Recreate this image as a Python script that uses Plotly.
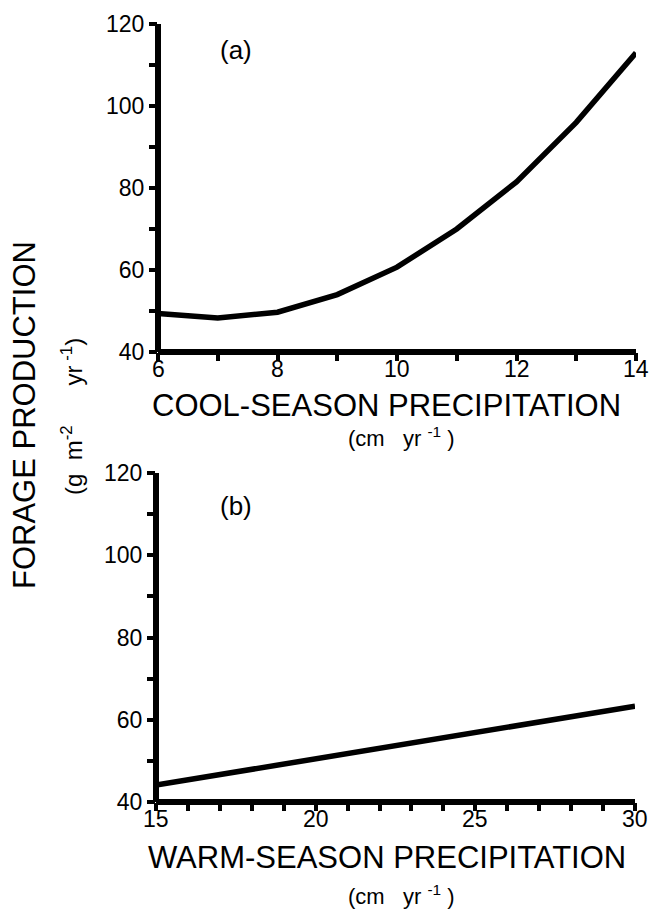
import plotly.graph_objects as go

W, H = 649, 916

# Panel (a): cool-season precipitation vs forage production
cool_precip = [6, 7, 8, 9, 10, 11, 12, 13, 14]
cool_forage = [49.4, 48.3, 49.7, 54.0, 60.7, 70.0, 81.5, 96.0, 113.0]

# Panel (b): warm-season precipitation vs forage production
warm_precip = [15, 20, 25, 30]
warm_forage = [44.1, 50.5, 56.9, 63.3]

y_ticks = [40, 60, 80, 100, 120]
cool_ticks = [6, 8, 10, 12, 14]
warm_ticks = [15, 20, 25, 30]

FONT = "Liberation Sans, Arial, Helvetica, sans-serif"

def px(x):
    return x / W

def py(y):
    return 1 - y / H

fig = go.Figure()
fig.add_trace(go.Scatter(x=cool_precip, y=cool_forage, mode="lines",
                         line=dict(color="black", width=5.5),
                         xaxis="x", yaxis="y", showlegend=False))
fig.add_trace(go.Scatter(x=warm_precip, y=warm_forage, mode="lines",
                         line=dict(color="black", width=5.5),
                         xaxis="x2", yaxis="y2", showlegend=False))

tickfont = dict(family=FONT, size=23, color="black")
minor = dict(ticks="outside", ticklen=8, tickwidth=3.5, tickcolor="black")
common = dict(showline=False, showgrid=False,
              zeroline=False, ticks="outside", ticklen=8, tickwidth=3.5,
              tickcolor="black", tickfont=tickfont, automargin=False)

fig.update_layout(
    width=W, height=H,
    margin=dict(l=0, r=0, t=0, b=0),
    plot_bgcolor="white", paper_bgcolor="white",
    xaxis=dict(domain=[px(158), px(636)], anchor="y", range=[6, 14],
               tickvals=cool_ticks, minor=dict(dtick=1, **minor),
               showticklabels=False, **common),
    yaxis=dict(domain=[py(352), py(24)], anchor="x", range=[40, 120],
               tickvals=y_ticks, minor=dict(dtick=10, **minor),
               ticklabelstandoff=0, **common),
    xaxis2=dict(domain=[px(156), px(635)], anchor="y2", range=[15, 30],
                tickvals=warm_ticks, minor=dict(dtick=1, **minor),
                showticklabels=False, **common),
    yaxis2=dict(domain=[py(802), py(473)], anchor="x2", range=[40, 120],
                tickvals=y_ticks, minor=dict(dtick=10, **minor),
                ticklabelstandoff=0, **common),
)

# thick axis frame lines (left and bottom of each panel)
for xa, ya in (("x", "y"), ("x2", "y2")):
    fig.add_shape(type="line", xref=xa + " domain", yref=ya + " domain",
                  x0=0, x1=0, y0=0, y1=1, line=dict(color="black", width=6), layer="above")
    fig.add_shape(type="line", xref=xa + " domain", yref=ya + " domain",
                  x0=0, x1=1, y0=0, y1=0, line=dict(color="black", width=6), layer="above")

def ann(text, x, y, size, angle=0):
    fig.add_annotation(text=text, x=px(x), y=py(y), xref="paper", yref="paper",
                       showarrow=False, textangle=angle, xanchor="center",
                       yanchor="middle", font=dict(family=FONT, size=size, color="black"))

# x tick labels placed close under the axis
for xa, ticks, ypix in (("x", cool_ticks, 369), ("x2", warm_ticks, 819)):
    for t in ticks:
        fig.add_annotation(text=str(t), x=t, xref=xa, y=py(ypix), yref="paper",
                           showarrow=False, xanchor="center", yanchor="middle",
                           font=dict(family=FONT, size=23, color="black"))

NB = "\u00a0"
ann("(a)", 236, 50, 26)
ann("(b)", 236, 506, 26)
ann("COOL-SEASON PRECIPITATION", 386, 405, 31)
ann("(cm" + NB * 3 + "yr <sup>-1</sup> )", 401, 437, 22)
ann("WARM-SEASON PRECIPITATION", 387, 857, 31)
ann("(cm" + NB * 3 + "yr <sup>-1</sup> )", 401, 895, 22)
ann("FORAGE PRODUCTION", 24, 415, 31, angle=-90)
ann("(g" + NB * 2 + "m<sup>-2</sup>" + NB * 6 + "yr<sup> -1</sup>)", 72, 417, 24, angle=-90)

fig.write_html("out.html")
